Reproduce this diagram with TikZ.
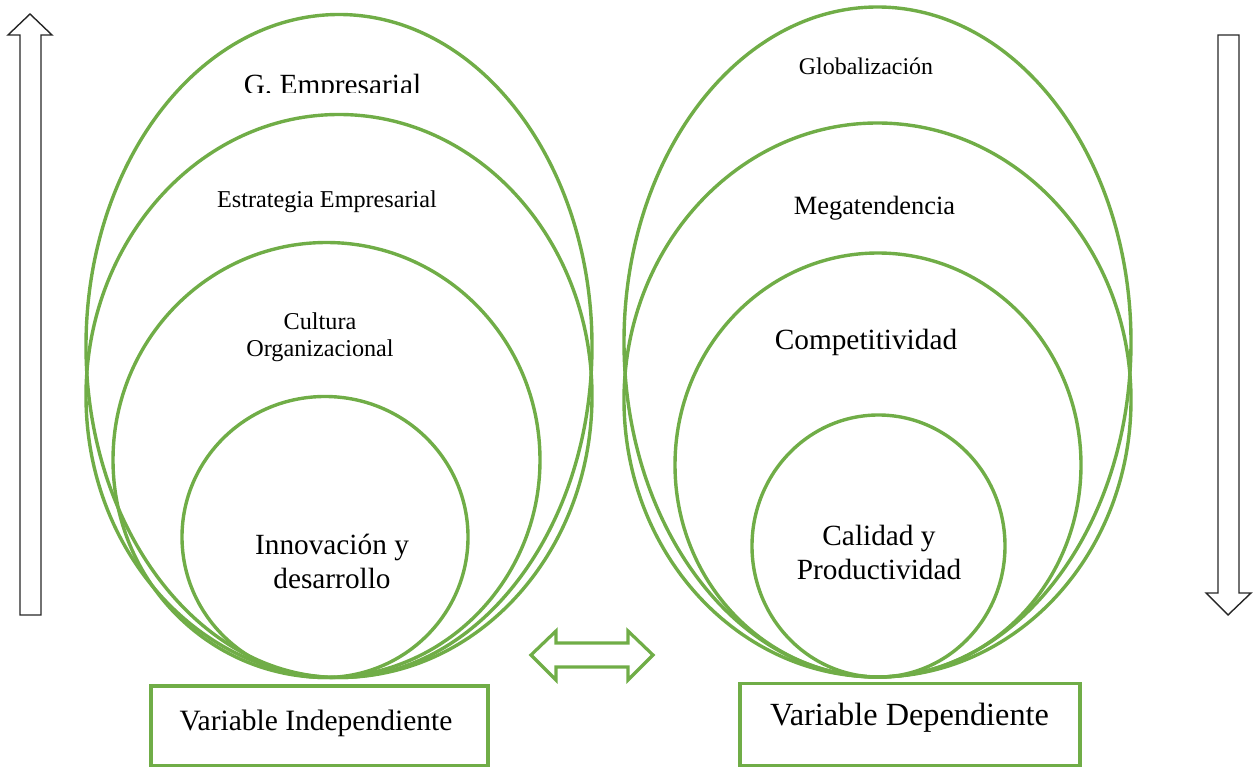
\documentclass[tikz,border=0pt]{standalone}
\usepackage{fontspec}
\setmainfont{Liberation Serif}
\usetikzlibrary{shapes.geometric}
\definecolor{leaf}{HTML}{70AD47}
\begin{document}
\begin{tikzpicture}[x=1pt,y=-1pt,
  ring/.style={ellipse, draw=leaf, line width=3.4pt, inner sep=0pt, outer sep=0pt},
  lbl/.style={inner sep=0pt, outer sep=0pt, align=center, text=black},
  varbox/.style={draw=leaf, line width=3.8pt, inner sep=0pt, outer sep=0pt},
  hollow/.style={draw=black!85, line width=1.4pt, line join=miter},
  twoway/.style={draw=leaf, line width=3.2pt, line join=miter},
  fsA/.style={font=\fontsize{29.3}{34}\selectfont},
  fsB/.style={font=\fontsize{24.2}{27}\selectfont},
  ]
\useasboundingbox (0,0) rectangle (1259,767);

% left group of nested ellipses
\node[ring, minimum width=506pt, minimum height=663pt] (gemp) at (339,346) {};
\node[ring, minimum width=506pt, minimum height=563pt] (estr) at (339,396) {};
\node[ring, minimum width=427pt, minimum height=435pt] (cult) at (326.5,460) {};
\node[ring, minimum width=286pt, minimum height=281pt] (inno) at (325,537) {};

% right group of nested ellipses
\node[ring, minimum width=507pt, minimum height=670pt] (glob) at (877.5,342) {};
\node[ring, minimum width=507pt, minimum height=554pt] (mega) at (877.5,400) {};
\node[ring, minimum width=406pt, minimum height=424pt] (comp) at (878,465) {};
\node[ring, minimum width=253pt, minimum height=262pt] (cali) at (878.5,546) {};

% labels of the left group
\begin{scope}
  \clip (0,0) rectangle (1259,93);
  \node[lbl, fsA, anchor=base] (tgemp) at (332.5,95) {G. Empresarial};
\end{scope}
\node[lbl, fsB, anchor=base] (testr) at (327,208) {Estrategia Empresarial};
\node[lbl, fsB] (tcult) at (320,337) {Cultura\\Organizacional};
\node[lbl, fsA] (tinno) at (332,561) {Innovación y\\desarrollo};

% labels of the right group
\node[lbl, font=\fontsize{23.9}{27}\selectfont, anchor=base] (tglob) at (866,75) {Globalización};
\node[lbl, font=\fontsize{26.4}{30}\selectfont, anchor=base] (tmega) at (874.5,215) {Megatendencia};
\node[lbl, fsA, anchor=base] (tcomp) at (866,350) {Competitividad};
\node[lbl, fsA] (tcali) at (879,552) {Calidad y\\Productividad};

% variable boxes
\node[varbox, minimum width=337pt, minimum height=80pt] (vind) at (319.5,726) {};
\node[lbl, font=\fontsize{29.5}{34}\selectfont, anchor=base] (tvind) at (316,730) {Variable Independiente};
\node[varbox, minimum width=340pt, minimum height=82pt] (vdep) at (910,724.5) {};
\node[lbl, font=\fontsize{32.3}{37}\selectfont, anchor=base] (tvdep) at (909.5,725) {Variable Dependiente};

% hollow up and down arrows at the sides
\draw[hollow] (20,615) -- (20,35) -- (8,35) -- (30,14) -- (52,35) -- (41,35) -- (41,615) -- cycle;
\draw[hollow] (1218,35) -- (1239,35) -- (1239,593) -- (1251,593) -- (1228,615) -- (1206,593) -- (1218,593) -- cycle;

% two-way arrow between the groups
\draw[twoway] (531,655) -- (556,631) -- (556,643) -- (628,643) -- (628,631) -- (653,655)
  -- (628,680) -- (628,667) -- (556,667) -- (556,680) -- cycle;
\end{tikzpicture}
\end{document}
